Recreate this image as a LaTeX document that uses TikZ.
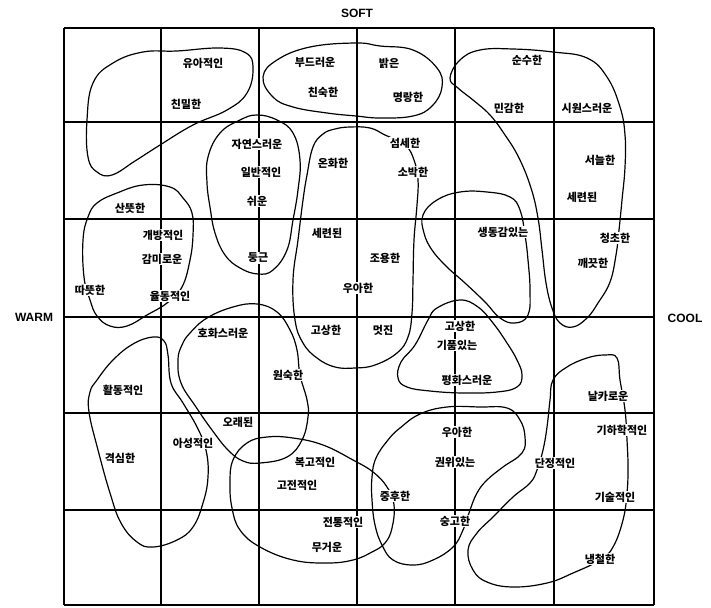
\documentclass[tikz,border=0pt]{standalone}
\usepackage{fontspec}
\setsansfont{Liberation Sans}
\newfontfamily\kr{Noto Sans CJK KR}
\tikzset{
  gridl/.style={line width=1.2pt,color=black},
  blob/.style={line width=1.2pt,color=black,line join=round},
  word/.style={fill=white,inner sep=0.6pt,font=\kr\bfseries\fontsize{11}{11}\selectfont},
  axlbl/.style={font=\sffamily\bfseries\fontsize{12}{13}\selectfont},
  axtick/.style={line width=2.8pt}}

\begin{document}
\begin{tikzpicture}[x=1pt,y=-1pt]
\useasboundingbox (0,0) rectangle (711,607);
\foreach \gx in {64,161,259,357,455,554,654} \draw[gridl] (\gx,28) -- (\gx,605);
\foreach \gy in {28,122,219,317,413,510,605} \draw[gridl] (64,\gy) -- (654,\gy);
\draw[blob] plot[smooth cycle,tension=0.7] coordinates {(93,83) (87,120) (88,157) (97,172) (112,175) (135,161) (160,145) (193,125) (227,110) (247,93) (253,68) (246,53) (220,48) (177,51) (143,52) (113,63)};
\draw[blob] plot[smooth cycle,tension=0.7] coordinates {(263,77) (277,60) (310,47) (356,43) (380,46) (413,50) (437,68) (442,87) (432,106) (413,116) (380,118) (356,116) (327,113) (293,107) (273,97)};
\draw[blob] plot[smooth cycle,tension=0.7] coordinates {(450,78) (460,60) (480,50) (513,49) (553,52) (587,58) (607,77) (620,107) (625,135) (625,167) (622,200) (619,230) (616,255) (610,282) (598,303) (587,318) (573,327) (560,323) (552,308) (546,283) (542,250) (538,218) (531,188) (519,158) (505,135) (490,115) (473,100) (458,88)};
\draw[blob] plot[smooth cycle,tension=0.7] coordinates {(257,115) (240,120) (220,133) (208,157) (207,183) (210,207) (215,233) (225,255) (240,268) (258,274) (273,270) (287,250) (293,220) (298,190) (300,160) (293,133) (277,120)};
\draw[blob] plot[smooth cycle,tension=0.7] coordinates {(313,147) (307,175) (303,200) (298,240) (293,280) (295,320) (303,343) (317,358) (335,367) (355,368) (375,365) (397,353) (408,337) (412,313) (413,280) (414,240) (417,205) (418,180) (414,160) (405,145) (385,135) (370,128) (350,127) (335,129) (323,134)};
\draw[blob] plot[smooth cycle,tension=0.7] coordinates {(97,203) (117,193) (143,185) (170,187) (183,198) (192,213) (193,235) (190,260) (182,287) (167,303) (147,315) (127,326) (110,326) (97,316) (90,300) (84,277) (83,240) (88,217)};
\draw[blob] plot[smooth cycle,tension=0.7] coordinates {(423,215) (437,200) (460,192) (487,192) (510,197) (520,210) (525,235) (528,260) (530,290) (528,315) (515,323) (500,318) (485,302) (465,283) (447,267) (432,250) (424,233)};
\draw[blob] plot[smooth cycle,tension=0.7] coordinates {(181,383) (178,360) (182,345) (190,333) (207,318) (233,307) (257,304) (277,312) (290,330) (297,350) (300,375) (307,400) (308,417) (302,440) (287,457) (260,463) (243,461) (228,450) (212,430) (196,407)};
\draw[blob] plot[smooth cycle,tension=0.7] coordinates {(97,380) (113,360) (133,344) (153,337) (164,341) (168,355) (171,383) (183,403) (197,427) (206,450) (208,477) (203,503) (193,527) (177,540) (153,547) (137,542) (121,523) (110,493) (98,450) (89,412) (90,392)};
\draw[blob] plot[smooth cycle,tension=0.7] coordinates {(437,308) (460,300) (478,307) (493,323) (507,343) (517,360) (522,375) (517,387) (497,392) (463,393) (430,391) (407,387) (398,378) (401,362) (415,345) (428,320)};
\draw[blob] plot[smooth cycle,tension=0.7] coordinates {(233,460) (247,443) (267,437) (293,438) (323,445) (353,460) (373,472) (387,487) (394,505) (392,528) (385,543) (372,552) (353,560) (327,563) (293,560) (260,547) (240,530) (232,508) (230,483)};
\draw[blob] plot[smooth cycle,tension=0.7] coordinates {(376,458) (388,440) (400,428) (420,414) (447,407) (480,407) (507,408) (520,420) (525,437) (522,453) (503,467) (487,480) (477,493) (470,510) (463,530) (453,547) (433,560) (413,565) (393,560) (382,545) (375,525) (372,500) (372,477)};
\draw[blob] plot[smooth cycle,tension=0.7] coordinates {(553,380) (567,367) (587,358) (605,355) (617,358) (620,380) (625,410) (627,440) (628,467) (627,493) (623,520) (613,547) (600,560) (573,573) (547,583) (513,587) (487,582) (473,570) (468,550) (477,533) (493,517) (513,497) (530,483) (537,470) (543,450) (547,427) (550,400)};
\node[word] (yuajeok) at (203,63) {유아적인};
\node[word] (chinmil) at (186,104) {친밀한};
\node[word] (budeureo) at (315,62) {부드러운};
\node[word] (balgeun) at (389,63) {밝은};
\node[word] (chinsuk) at (323,92) {친숙한};
\node[word] (myeongrang) at (408,97) {명랑한};
\node[word] (sunsu) at (527,60) {순수한};
\node[word] (mingam) at (509,108) {민감한};
\node[word] (siwon) at (587,108) {시원스러운};
\node[word] (jayeon) at (257,144) {자연스러운};
\node[word] (ilban) at (261,172) {일반적인};
\node[word] (swiun) at (257,201) {쉬운};
\node[word] (onhwa) at (333,163) {온화한};
\node[word] (seomse) at (405,143) {섬세한};
\node[word] (sobak) at (413,172) {소박한};
\node[word] (seoneul) at (600,160) {서늘한};
\node[word] (seryeonA) at (582,197) {세련된};
\node[word] (santteut) at (130,208) {산뜻한};
\node[word] (gaebang) at (163,235) {개방적인};
\node[word] (gammi) at (162,259) {감미로운};
\node[word] (ttatteut) at (90,290) {따뜻한};
\node[word] (yuldong) at (170,296) {율동적인};
\node[word] (dunggeun) at (258,258) {둥근};
\node[word] (seryeonB) at (327,233) {세련된};
\node[word] (joyong) at (385,258) {조용한};
\node[word] (uahanA) at (358,288) {우아한};
\node[word] (saengdong) at (503,232) {생동감있는};
\node[word] (cheongcho) at (615,238) {청초한};
\node[word] (kkaekkeut) at (593,263) {깨끗한};
\node[word] (hohwa) at (223,333) {호화스러운};
\node[word] (gosangA) at (326,330) {고상한};
\node[word] (meotjin) at (383,330) {멋진};
\node[word] (gosangB) at (460,326) {고상한};
\node[word] (gipum) at (457,345) {기품있는};
\node[word] (pyeonghwa) at (467,380) {평화스러운};
\node[word] (wonsuk) at (288,375) {원숙한};
\node[word] (hwaldong) at (123,390) {활동적인};
\node[word] (nalkaro) at (608,396) {날카로운};
\node[word] (orae) at (238,422) {오래된};
\node[word] (yaseong) at (193,443) {아성적인};
\node[word] (gyeoksim) at (120,458) {격심한};
\node[word] (bokgo) at (315,462) {복고적인};
\node[word] (gojeon) at (297,485) {고전적인};
\node[word] (uahanB) at (457,432) {우아한};
\node[word] (gwonwi) at (455,462) {권위있는};
\node[word] (danjeong) at (555,463) {단정적인};
\node[word] (gihak) at (622,430) {기하학적인};
\node[word] (junghu) at (395,496) {중후한};
\node[word] (gisul) at (615,497) {기술적인};
\node[word] (jeontong) at (343,522) {전통적인};
\node[word] (mugeoun) at (327,547) {무거운};
\node[word] (sunggo) at (455,521) {숭고한};
\node[word] (naengcheol) at (600,559) {냉철한};
\node[axlbl] (soft) at (357,13) {SOFT};
\node[axlbl] (warm) at (34,317) {WARM};
\node[axlbl] (cool) at (685,318) {COOL};
\draw[axtick] (357,28) -- (357,41);
\draw[axtick] (357,592) -- (357,605);
\draw[axtick] (64,317) -- (78,317);
\draw[axtick] (640,317) -- (654,317);
\end{tikzpicture}
\end{document}
